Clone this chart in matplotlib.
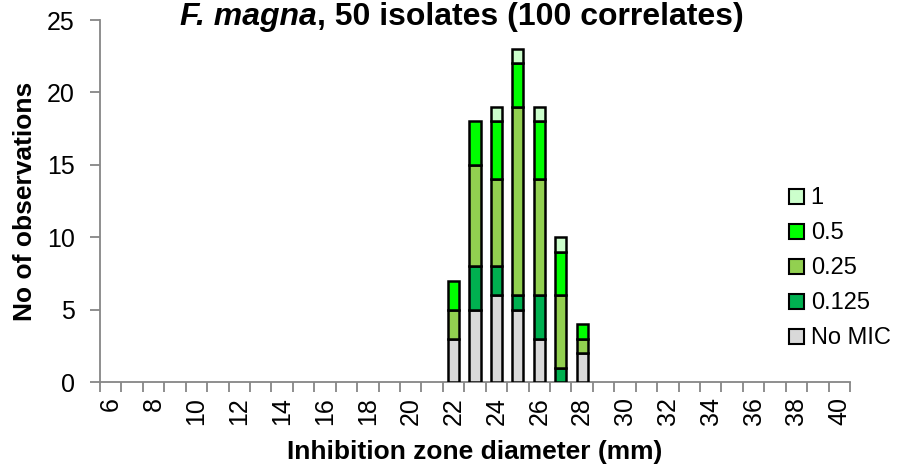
import numpy as np
import matplotlib
matplotlib.use("Agg")
import matplotlib.pyplot as plt
from matplotlib.patches import Patch

plt.rcParams["font.family"] = ["Liberation Sans", "DejaVu Sans"]

# inhibition zone diameters (mm), one category per integer
zones = list(range(6, 41))

# counts per MIC class, only non-zero for zones 22..28
series_names = ["No MIC", "0.125", "0.25", "0.5", "1"]
series_colors = ["#D9D9D9", "#00B050", "#92D050", "#00FF00", "#CCFFCC"]
nonzero_zones = [22, 23, 24, 25, 26, 27, 28]
no_mic = [3, 5, 6, 5, 3, 0, 2]
mic_0125 = [0, 3, 2, 1, 3, 1, 0]
mic_025 = [2, 7, 6, 13, 8, 5, 1]
mic_05 = [2, 3, 4, 3, 4, 3, 1]
mic_1 = [0, 0, 1, 1, 1, 1, 0]

series_vals = [no_mic, mic_0125, mic_025, mic_05, mic_1]

W, H = 898, 467
fig = plt.figure(figsize=(W / 100, H / 100), dpi=100)
ax = fig.add_axes([100 / W, 1 - 382 / H, 750 / W, 362 / H])

x = np.arange(len(zones))
bottom = np.zeros(len(zones))
for name, col, vals in zip(series_names, series_colors, series_vals):
    full = np.zeros(len(zones))
    for z, v in zip(nonzero_zones, vals):
        full[zones.index(z)] = v
    mask = full > 0
    ax.bar(x[mask], full[mask], width=0.52, bottom=bottom[mask], color=col,
           edgecolor="black", linewidth=1.8, zorder=3)
    bottom += full

grey = "#868686"
ax.set_xlim(-0.5, len(zones) - 0.5)
ax.set_ylim(0, 25)
ax.set_yticks([0, 5, 10, 15, 20, 25])
ax.set_xticks([i for i, z in enumerate(zones) if z % 2 == 0])
ax.set_xticklabels([str(z) for z in zones if z % 2 == 0], rotation=90)
ax.set_xticks(np.arange(-0.5, len(zones), 1.0), minor=True)
ax.tick_params(axis="x", which="major", length=0, pad=11, labelsize=18)
ax.tick_params(axis="x", which="minor", length=7, width=1.3, color=grey)
ax.tick_params(axis="y", length=7, width=1.3, color=grey, pad=11, labelsize=18)
for s in ["top", "right"]:
    ax.spines[s].set_visible(False)
for s in ["left", "bottom"]:
    ax.spines[s].set_color(grey)
    ax.spines[s].set_linewidth(1.3)

fig.text(25 / W, 1 - 201 / H, "No of observations", rotation=90,
         ha="center", va="center", fontsize=19, fontweight="bold")
fig.text(475 / W, 1 - 452 / H, "Inhibition zone diameter (mm)",
         ha="center", va="center", fontsize=19, fontweight="bold")

# title: italic species name + plain bold rest, centred as a whole
title_y = 1 - 25 / H
t1 = fig.text(0, title_y, "F. magna", ha="left", va="baseline",
              fontsize=23, fontweight="bold", fontstyle="italic")
t2 = fig.text(0, title_y, ", 50 isolates (100 correlates)", ha="left",
              va="baseline", fontsize=23, fontweight="bold")
fig.canvas.draw()
r = fig.canvas.get_renderer()
w1 = t1.get_window_extent(r).width
w2 = t2.get_window_extent(r).width
x0 = 462 - (w1 + w2) / 2
t1.set_x(x0 / W)
t2.set_x((x0 + w1) / W)

handles = [Patch(facecolor=c, edgecolor="black", linewidth=1.5)
           for c in series_colors]
leg = fig.legend(handles[::-1], series_names[::-1], loc="upper left",
                 bbox_to_anchor=(780 / W, 1 - 178 / H), frameon=False,
                 fontsize=17, handlelength=0.6, handleheight=0.6,
                 handletextpad=0.3, labelspacing=0.55, borderaxespad=0)

fig.savefig("out.png", dpi=100)
